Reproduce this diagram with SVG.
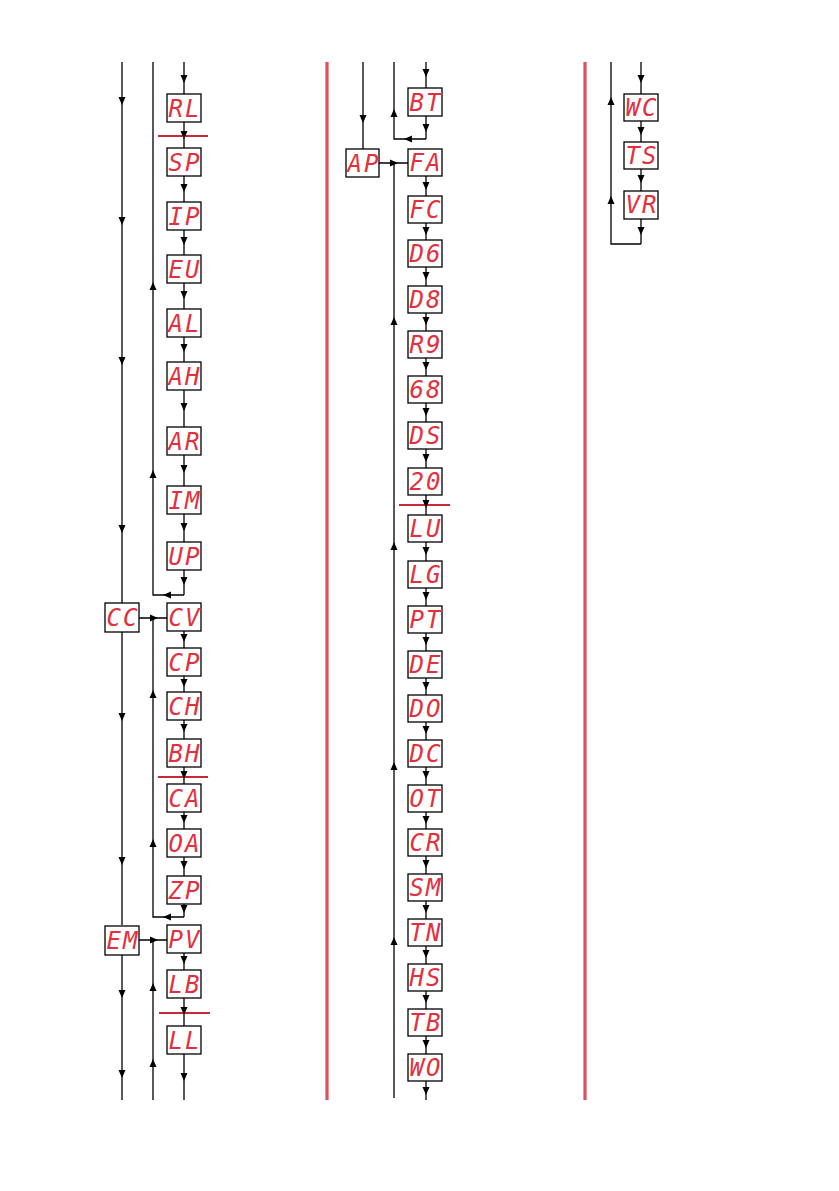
<svg xmlns="http://www.w3.org/2000/svg" xmlns:xlink="http://www.w3.org/1999/xlink" width="839" height="1191" viewBox="0 0 839 1191">
<style>
.b{fill:#fff;stroke:#000;stroke-width:1.3}
.t{font-family:"DejaVu Sans Mono","Liberation Mono",monospace;font-size:24px;font-style:italic;fill:#e4303c;text-anchor:middle;letter-spacing:2px}
.l{stroke:#000;stroke-width:1.3;fill:none}
.rh{stroke:#c8283a;stroke-width:2.2}
.rv{stroke:#e0505c;stroke-width:3.2}
.a{fill:#000}
</style>
<defs>
<path id="ad" d="M-3.5,-5 L3.5,-5 L0,3 Z"/>
<path id="au" d="M-3.5,5 L3.5,5 L0,-3 Z"/>
<path id="al" d="M5,-3.5 L5,3.5 L-3,0 Z"/>
<path id="ar" d="M-5,-3.5 L-5,3.5 L3,0 Z"/>
</defs>
<rect width="839" height="1191" fill="#fff"/>
<g id="separators">
<line class="rv" x1="327" y1="62" x2="327" y2="1100"/>
<line class="rv" x1="585" y1="62" x2="585" y2="1100"/>
<line class="rh" x1="158" y1="136" x2="208" y2="136"/>
<line class="rh" x1="158" y1="777" x2="208" y2="777"/>
<line class="rh" x1="159" y1="1013" x2="210" y2="1013"/>
<line class="rh" x1="399" y1="505" x2="450" y2="505"/>
</g>
<g id="connectors">
<path class="l" d="M122,62 V603 M122,632 V925 M122,955 V1100"/>
<path class="l" d="M153,62 V595 H184 M184,570 V595"/>
<path class="l" d="M139,618 H167 M153,618 V917 H184 M184,904 V917"/>
<path class="l" d="M139,940 H167 M153,940 V1100"/>
<path class="l" d="M184,62 V94 M184,122 V148 M184,176 V202 M184,230 V255 M184,283 V309 M184,337 V362 M184,390 V427 M184,455 V486 M184,514 V542 M184,631 V648 M184,676 V692 M184,720 V739 M184,767 V784 M184,812 V829 M184,857 V876 M184,953 V970 M184,998 V1026 M184,1054 V1100"/>
<g class="a">
<use xlink:href="#ad" x="122" y="102"/><use xlink:href="#ad" x="122" y="222"/><use xlink:href="#ad" x="122" y="362"/><use xlink:href="#ad" x="122" y="530"/>
<use xlink:href="#ad" x="122" y="718"/><use xlink:href="#ad" x="122" y="862"/><use xlink:href="#ad" x="122" y="995"/><use xlink:href="#ad" x="122" y="1075"/>
<use xlink:href="#au" x="153" y="285"/><use xlink:href="#au" x="153" y="473"/><use xlink:href="#au" x="153" y="693"/><use xlink:href="#au" x="153" y="842"/><use xlink:href="#au" x="153" y="986"/><use xlink:href="#au" x="153" y="1062"/>
<use xlink:href="#al" x="166" y="595"/><use xlink:href="#al" x="166" y="917"/>
<use xlink:href="#ar" x="155" y="618"/><use xlink:href="#ar" x="155" y="940"/>
<use xlink:href="#ad" x="184" y="80"/><use xlink:href="#ad" x="184" y="136"/><use xlink:href="#ad" x="184" y="189"/><use xlink:href="#ad" x="184" y="242"/><use xlink:href="#ad" x="184" y="296"/><use xlink:href="#ad" x="184" y="349"/><use xlink:href="#ad" x="184" y="408"/><use xlink:href="#ad" x="184" y="470"/><use xlink:href="#ad" x="184" y="528"/><use xlink:href="#ad" x="184" y="582"/>
<use xlink:href="#ad" x="184" y="639"/><use xlink:href="#ad" x="184" y="684"/><use xlink:href="#ad" x="184" y="729"/><use xlink:href="#ad" x="184" y="776"/><use xlink:href="#ad" x="184" y="820"/><use xlink:href="#ad" x="184" y="866"/><use xlink:href="#ad" x="184" y="910"/>
<use xlink:href="#ad" x="184" y="961"/><use xlink:href="#ad" x="184" y="1012"/><use xlink:href="#ad" x="184" y="1078"/>
</g>
<path class="l" d="M363,62 V149"/>
<path class="l" d="M394,62 V139 H426 M426,115 V139"/>
<path class="l" d="M379,163 H408 M394,163 V1098"/>
<path class="l" d="M426,62 V88 M426,176 V196 M426,223 V240 M426,267 V286 M426,313 V331 M426,358 V376 M426,403 V422 M426,449 V468 M426,495 V515 M426,542 V561 M426,588 V606 M426,633 V651 M426,678 V695 M426,722 V740 M426,767 V785 M426,812 V829 M426,856 V874 M426,901 V919 M426,946 V964 M426,991 V1009 M426,1036 V1054 M426,1081 V1100"/>
<g class="a">
<use xlink:href="#ad" x="363" y="120"/>
<use xlink:href="#au" x="394" y="112"/>
<use xlink:href="#al" x="407" y="139"/>
<use xlink:href="#ar" x="395" y="163"/>
<use xlink:href="#au" x="394" y="320"/><use xlink:href="#au" x="394" y="545"/><use xlink:href="#au" x="394" y="765"/><use xlink:href="#au" x="394" y="940"/>
<use xlink:href="#ad" x="426" y="74"/><use xlink:href="#ad" x="426" y="129"/>
<use xlink:href="#ad" x="426" y="187"/><use xlink:href="#ad" x="426" y="232"/><use xlink:href="#ad" x="426" y="277"/><use xlink:href="#ad" x="426" y="322"/><use xlink:href="#ad" x="426" y="367"/><use xlink:href="#ad" x="426" y="413"/><use xlink:href="#ad" x="426" y="459"/><use xlink:href="#ad" x="426" y="505"/>
<use xlink:href="#ad" x="426" y="552"/><use xlink:href="#ad" x="426" y="597"/><use xlink:href="#ad" x="426" y="642"/><use xlink:href="#ad" x="426" y="687"/><use xlink:href="#ad" x="426" y="731"/><use xlink:href="#ad" x="426" y="776"/><use xlink:href="#ad" x="426" y="821"/><use xlink:href="#ad" x="426" y="865"/><use xlink:href="#ad" x="426" y="910"/><use xlink:href="#ad" x="426" y="955"/><use xlink:href="#ad" x="426" y="1000"/><use xlink:href="#ad" x="426" y="1045"/><use xlink:href="#ad" x="426" y="1092"/>
</g>
<path class="l" d="M611,62 V244 H641 M641,219 V244"/>
<path class="l" d="M641,62 V94 M641,121 V142 M641,169 V191"/>
<g class="a">
<use xlink:href="#au" x="611" y="100"/><use xlink:href="#au" x="611" y="199"/>
<use xlink:href="#ad" x="641" y="80"/><use xlink:href="#ad" x="641" y="132"/><use xlink:href="#ad" x="641" y="180"/><use xlink:href="#ad" x="641" y="232"/>
</g>
</g>
<g id="CC"><rect class="b" x="105" y="603" width="34" height="29"/><text class="t" x="123" y="626">CC</text></g>
<g id="EM"><rect class="b" x="105" y="926" width="34" height="29"/><text class="t" x="123" y="949">EM</text></g>
<g id="RL"><rect class="b" x="167" y="94" width="34" height="28"/><text class="t" x="185" y="117">RL</text></g>
<g id="SP"><rect class="b" x="167" y="148" width="34" height="28"/><text class="t" x="185" y="171">SP</text></g>
<g id="IP"><rect class="b" x="167" y="202" width="34" height="28"/><text class="t" x="185" y="225">IP</text></g>
<g id="EU"><rect class="b" x="167" y="255" width="34" height="28"/><text class="t" x="185" y="278">EU</text></g>
<g id="AL"><rect class="b" x="167" y="309" width="34" height="28"/><text class="t" x="185" y="332">AL</text></g>
<g id="AH"><rect class="b" x="167" y="362" width="34" height="28"/><text class="t" x="185" y="385">AH</text></g>
<g id="AR"><rect class="b" x="167" y="427" width="34" height="28"/><text class="t" x="185" y="450">AR</text></g>
<g id="IM"><rect class="b" x="167" y="486" width="34" height="28"/><text class="t" x="185" y="509">IM</text></g>
<g id="UP"><rect class="b" x="167" y="542" width="34" height="28"/><text class="t" x="185" y="565">UP</text></g>
<g id="CV"><rect class="b" x="167" y="603" width="34" height="28"/><text class="t" x="185" y="626">CV</text></g>
<g id="CP"><rect class="b" x="167" y="648" width="34" height="28"/><text class="t" x="185" y="671">CP</text></g>
<g id="CH"><rect class="b" x="167" y="692" width="34" height="28"/><text class="t" x="185" y="715">CH</text></g>
<g id="BH"><rect class="b" x="167" y="739" width="34" height="28"/><text class="t" x="185" y="762">BH</text></g>
<g id="CA"><rect class="b" x="167" y="784" width="34" height="28"/><text class="t" x="185" y="807">CA</text></g>
<g id="OA"><rect class="b" x="167" y="829" width="34" height="28"/><text class="t" x="185" y="852">OA</text></g>
<g id="ZP"><rect class="b" x="167" y="876" width="34" height="28"/><text class="t" x="185" y="899">ZP</text></g>
<g id="PV"><rect class="b" x="167" y="925" width="34" height="28"/><text class="t" x="185" y="948">PV</text></g>
<g id="LB"><rect class="b" x="167" y="970" width="34" height="28"/><text class="t" x="185" y="993">LB</text></g>
<g id="LL"><rect class="b" x="167" y="1026" width="34" height="28"/><text class="t" x="185" y="1049">LL</text></g>
<g id="AP"><rect class="b" x="346" y="149" width="33" height="28"/><text class="t" x="364" y="172">AP</text></g>
<g id="BT"><rect class="b" x="408" y="88" width="34" height="28"/><text class="t" x="426" y="111">BT</text></g>
<g id="FA"><rect class="b" x="408" y="149" width="34" height="27"/><text class="t" x="426" y="171">FA</text></g>
<g id="FC"><rect class="b" x="408" y="196" width="34" height="27"/><text class="t" x="426" y="218">FC</text></g>
<g id="D6"><rect class="b" x="408" y="240" width="34" height="27"/><text class="t" x="426" y="262">D6</text></g>
<g id="D8"><rect class="b" x="408" y="286" width="34" height="27"/><text class="t" x="426" y="308">D8</text></g>
<g id="R9"><rect class="b" x="408" y="331" width="34" height="27"/><text class="t" x="426" y="353">R9</text></g>
<g id="n68"><rect class="b" x="408" y="376" width="34" height="27"/><text class="t" x="426" y="398">68</text></g>
<g id="DS"><rect class="b" x="408" y="422" width="34" height="27"/><text class="t" x="426" y="444">DS</text></g>
<g id="n20"><rect class="b" x="408" y="468" width="34" height="27"/><text class="t" x="426" y="490">20</text></g>
<g id="LU"><rect class="b" x="408" y="515" width="34" height="27"/><text class="t" x="426" y="537">LU</text></g>
<g id="LG"><rect class="b" x="408" y="561" width="34" height="27"/><text class="t" x="426" y="583">LG</text></g>
<g id="PT"><rect class="b" x="408" y="606" width="34" height="27"/><text class="t" x="426" y="628">PT</text></g>
<g id="DE"><rect class="b" x="408" y="651" width="34" height="27"/><text class="t" x="426" y="673">DE</text></g>
<g id="DO"><rect class="b" x="408" y="695" width="34" height="27"/><text class="t" x="426" y="717">DO</text></g>
<g id="DC"><rect class="b" x="408" y="740" width="34" height="27"/><text class="t" x="426" y="762">DC</text></g>
<g id="OT"><rect class="b" x="408" y="785" width="34" height="27"/><text class="t" x="426" y="807">OT</text></g>
<g id="CR"><rect class="b" x="408" y="829" width="34" height="27"/><text class="t" x="426" y="851">CR</text></g>
<g id="SM"><rect class="b" x="408" y="874" width="34" height="27"/><text class="t" x="426" y="896">SM</text></g>
<g id="TN"><rect class="b" x="408" y="919" width="34" height="27"/><text class="t" x="426" y="941">TN</text></g>
<g id="HS"><rect class="b" x="408" y="964" width="34" height="27"/><text class="t" x="426" y="986">HS</text></g>
<g id="TB"><rect class="b" x="408" y="1009" width="34" height="27"/><text class="t" x="426" y="1031">TB</text></g>
<g id="WO"><rect class="b" x="408" y="1054" width="34" height="27"/><text class="t" x="426" y="1076">WO</text></g>
<g id="WC"><rect class="b" x="624" y="94" width="34" height="27"/><text class="t" x="642" y="116">WC</text></g>
<g id="TS"><rect class="b" x="624" y="142" width="34" height="27"/><text class="t" x="642" y="164">TS</text></g>
<g id="VR"><rect class="b" x="624" y="191" width="34" height="28"/><text class="t" x="642" y="213">VR</text></g>
</svg>
